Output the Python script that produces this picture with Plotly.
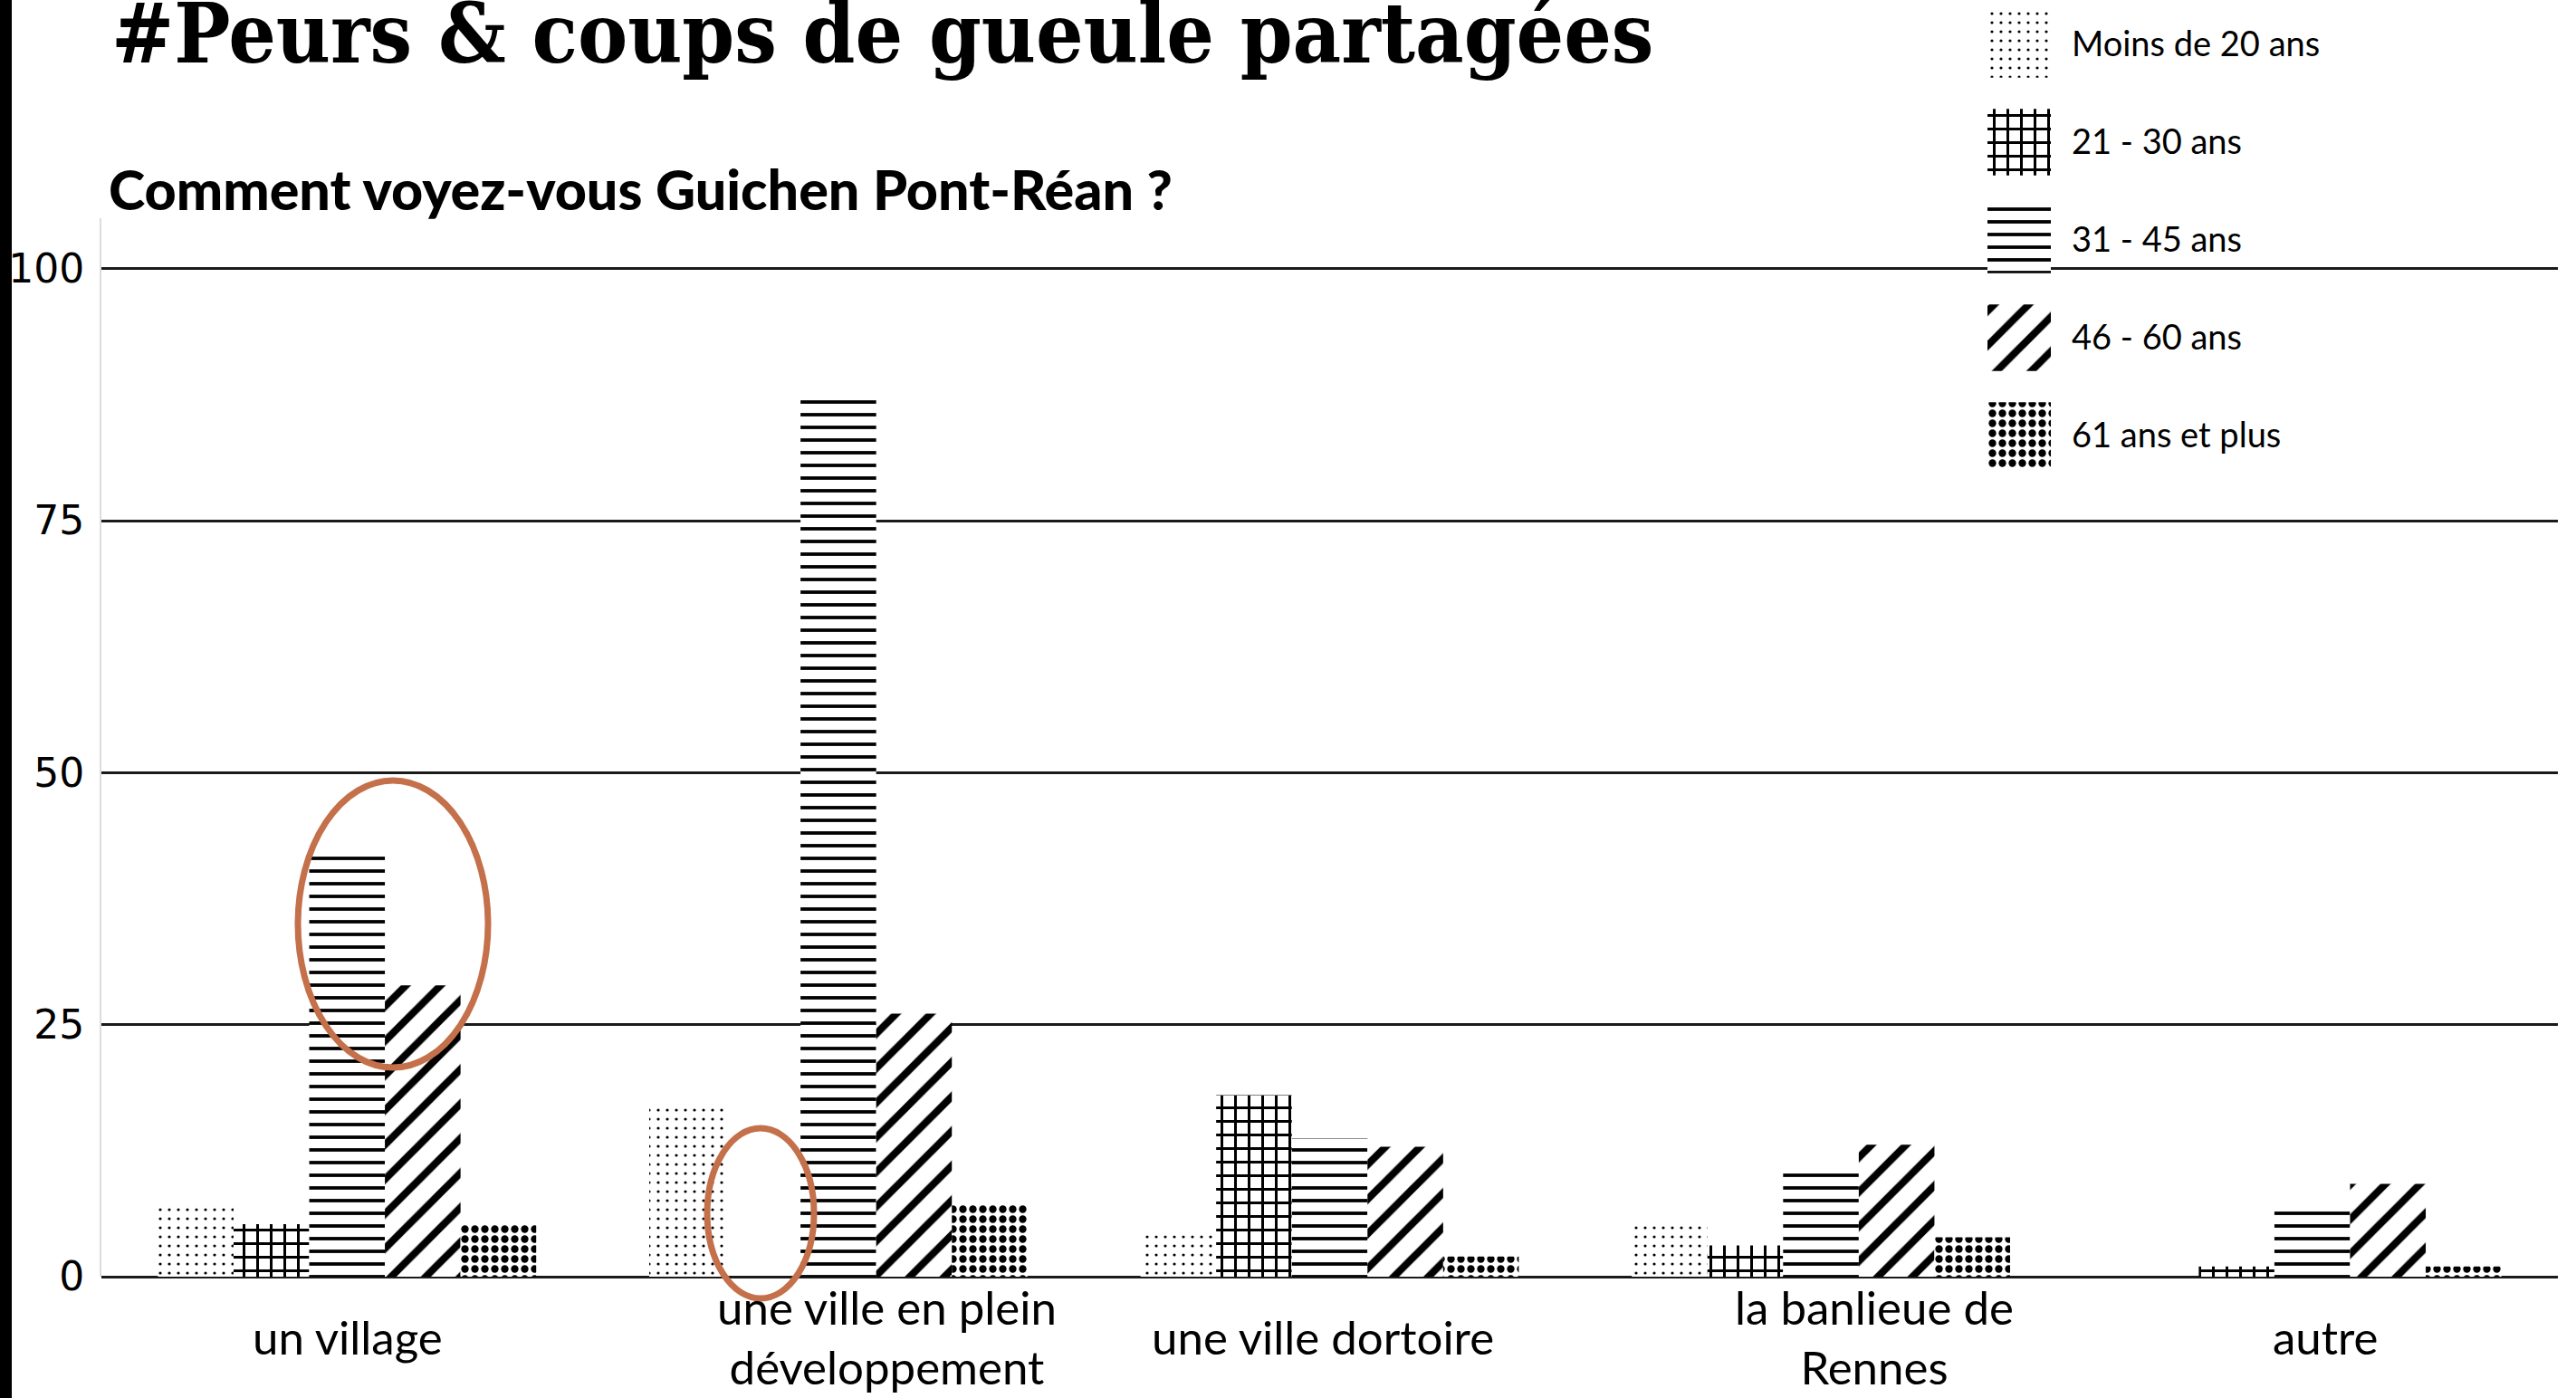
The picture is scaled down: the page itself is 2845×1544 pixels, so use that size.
import plotly.graph_objects as go

categories = ["un village", "une ville en plein<br>développement", "une ville dortoire",
              "la banlieue de<br>Rennes", "autre"]
series = ["Moins de 20 ans", "21 - 30 ans", "31 - 45 ans", "46 - 60 ans", "61 ans et plus"]
values = {
    "Moins de 20 ans": [7.2, 17.0, 4.1, 5.4, 0.0],
    "21 - 30 ans":     [5.2, 0.0, 18.0, 3.1, 1.0],
    "31 - 45 ans":     [42.0, 87.0, 13.7, 11.1, 7.2],
    "46 - 60 ans":     [28.9, 26.1, 12.9, 13.1, 9.2],
    "61 ans et plus":  [5.2, 7.2, 2.0, 3.9, 1.0],
}
y_ticks = [0, 25, 50, 75, 100]

# style
patterns = {
    "Moins de 20 ans": dict(shape=".", size=10, solidity=0.08),
    "21 - 30 ans":     dict(shape="+", size=15, solidity=0.36),
    "31 - 45 ans":     dict(shape="-", size=14, solidity=0.27),
    "46 - 60 ans":     dict(shape="/", size=27, solidity=0.3),
    "61 ans et plus":  dict(shape=".", size=11, solidity=0.45),
}
label_xshift = [1, 54, -8, 59, 15]

W, H = 2845, 1544
ML, MR, MB = 112, 20, 134
PW = W - ML - MR
PH = H - MB


def px_x(px):
    return (px - ML) / PW


def px_y(py):
    return (PH - py) / PH


fig = go.Figure()
for s in series:
    p = patterns[s]
    fig.add_trace(go.Bar(
        x=categories, y=values[s], name=s, showlegend=False,
        marker=dict(color="white", line=dict(width=0),
                    pattern=dict(shape=p["shape"], size=p["size"], solidity=p["solidity"],
                                 fgcolor="black", bgcolor="white", fillmode="replace")),
    ))

# legend swatches drawn on a small side axis
fig.add_trace(go.Bar(
    x=[1] * len(series), y=series, orientation="h", xaxis="x2", yaxis="y2",
    width=0.68, showlegend=False, hoverinfo="skip",
    marker=dict(color="white", line=dict(width=0),
                pattern=dict(shape=[patterns[s]["shape"] for s in series],
                             size=[patterns[s]["size"] for s in series],
                             solidity=[patterns[s]["solidity"] for s in series],
                             fgcolor="black", bgcolor="white", fillmode="replace")),
))

label_font = dict(family="Lato", size=51, color="black")
for i, c in enumerate(categories):
    fig.add_annotation(x=c, xref="x", y=px_y(1477), yref="paper", text=c,
                       showarrow=False, xanchor="center", yanchor="middle",
                       xshift=label_xshift[i], font=label_font, align="center")

fig.add_annotation(x=px_x(118), xref="paper", y=px_y(208), yref="paper",
                   text="Comment voyez-vous Guichen Pont-Réan ?", showarrow=False,
                   xanchor="left", yanchor="middle",
                   font=dict(family="Lato", size=61, color="black", weight=900))

orange = "#c4704b"
fig.add_shape(type="circle", xref="paper", yref="paper",
              x0=px_x(329), x1=px_x(539), y0=px_y(1179), y1=px_y(862),
              line=dict(color=orange, width=7), layer="above")
fig.add_shape(type="circle", xref="paper", yref="paper",
              x0=px_x(781), x1=px_x(899), y0=px_y(1434), y1=px_y(1246),
              line=dict(color=orange, width=7), layer="above")
# black strip at the left edge
fig.add_shape(type="rect", xref="paper", yref="paper",
              x0=px_x(0), x1=px_x(13), y0=px_y(H), y1=px_y(0),
              fillcolor="black", line=dict(width=0), layer="above")

fig.update_layout(
    width=W, height=H,
    margin=dict(l=ML, r=MR, t=0, b=MB),
    paper_bgcolor="white", plot_bgcolor="white",
    barmode="group", bargap=0.23, bargroupgap=0,
    title=dict(text="#Peurs & coups de gueule partagées", xref="container", yref="container",
               x=123 / W, xanchor="left", y=1 - 37 / H, yanchor="middle",
               font=dict(family="DejaVu Serif Condensed, Liberation Serif", size=92,
                         color="black", weight="bold")),
    xaxis=dict(type="category", showticklabels=False, showgrid=False, showline=False,
               ticks="", domain=[0, 1]),
    yaxis=dict(range=[0, 105], domain=[0, px_y(241)], tickvals=y_ticks,
               showgrid=True, gridcolor="#1a1a1a", gridwidth=3,
               zeroline=True, zerolinecolor="#1a1a1a", zerolinewidth=3,
               showline=True, linecolor="#dcdcdc", linewidth=2,
               ticks="", ticklabelstandoff=8,
               tickfont=dict(family="DejaVu Sans", size=44, color="black")),
    xaxis2=dict(domain=[px_x(2195), px_x(2265)], anchor="y2", range=[0, 1], visible=False),
    yaxis2=dict(domain=[px_y(535), 1], anchor="x2", side="right", type="category",
                range=[4.5, -0.4537], showgrid=False, zeroline=False, showline=False,
                ticks="", ticklabelstandoff=22,
                tickfont=dict(family="Lato", size=38, color="black")),
)

fig.write_html("out.html", config={"displayModeBar": False},
               post_script="document.body.style.margin='0';document.body.style.padding='0';")
